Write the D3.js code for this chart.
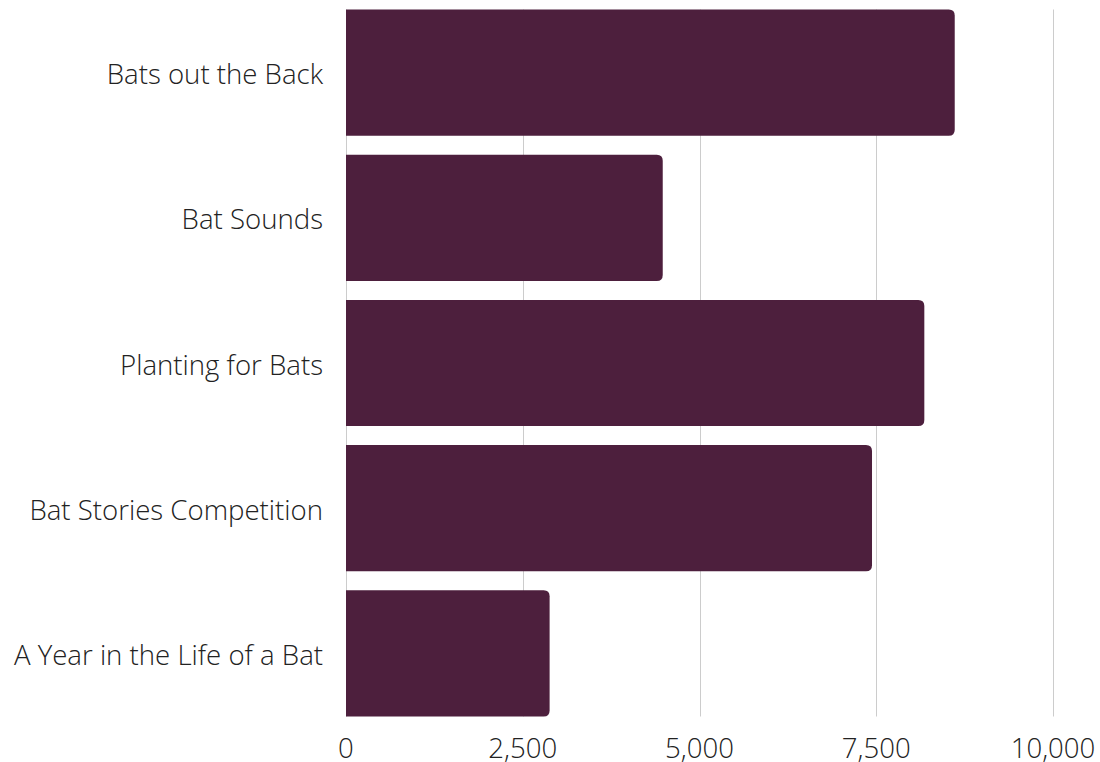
<!DOCTYPE html>
<html>
<head>
<meta charset="utf-8">
<script src="https://cdn.jsdelivr.net/npm/d3@7"></script>
<style>
  html, body { margin: 0; padding: 0; background: #fff; }
  svg { display: block; font-family: "Open Sans", sans-serif; }
</style>
</head>
<body>
<svg id="chart" width="1100" height="762"></svg>
<script>
const categories = ["Bats out the Back", "Bat Sounds", "Planting for Bats", "Bat Stories Competition", "A Year in the Life of a Bat"];
const values = [8610, 4480, 8180, 7440, 2880];
const tickValues = [0, 2500, 5000, 7500, 10000];

const svg = d3.select("#chart");
const margin = { left: 346, right: 47, top: 9.5, bottom: 45.5 };
const W = 1100, H = 762;

const x = d3.scaleLinear().domain([0, 10000]).range([margin.left, W - margin.right]);
const y = d3.scaleBand().domain(categories).range([margin.top, H - margin.bottom]).paddingInner(0.131).paddingOuter(0);

// gridlines
svg.append("g").selectAll("line").data(tickValues).join("line")
  .attr("x1", d => Math.round(x(d)) + 0.5).attr("x2", d => Math.round(x(d)) + 0.5)
  .attr("y1", margin.top).attr("y2", H - margin.bottom)
  .attr("stroke", "#cccccc").attr("stroke-width", 1);

// bars with rounded right corners
const r = 6;
svg.append("g").selectAll("path").data(categories).join("path")
  .attr("d", (c, i) => {
    const x0 = x(0), x1 = x(values[i]), y0 = y(c), y1 = y(c) + y.bandwidth();
    return `M${x0},${y0}H${x1 - r}Q${x1},${y0} ${x1},${y0 + r}V${y1 - r}Q${x1},${y1} ${x1 - r},${y1}H${x0}Z`;
  })
  .attr("fill", "#4d1f3d");

// category labels
svg.append("g").selectAll("text").data(categories).join("text")
  .attr("x", margin.left - 23)
  .attr("y", c => y(c) + y.bandwidth() / 2)
  .attr("dy", "0.42em")
  .attr("text-anchor", "end")
  .attr("font-size", 27.6)
  .attr("font-weight", 300)
  .attr("fill", "#222")
  .text(c => c);

// x tick labels
const fmt = d3.format(",");
svg.append("g").selectAll("text").data(tickValues).join("text")
  .attr("x", d => x(d))
  .attr("y", 748)
  .attr("dy", "0.35em")
  .attr("text-anchor", "middle")
  .attr("font-size", 27.6)
  .attr("font-weight", 300)
  .attr("fill", "#222")
  .text(d => fmt(d));
</script>
</body>
</html>
